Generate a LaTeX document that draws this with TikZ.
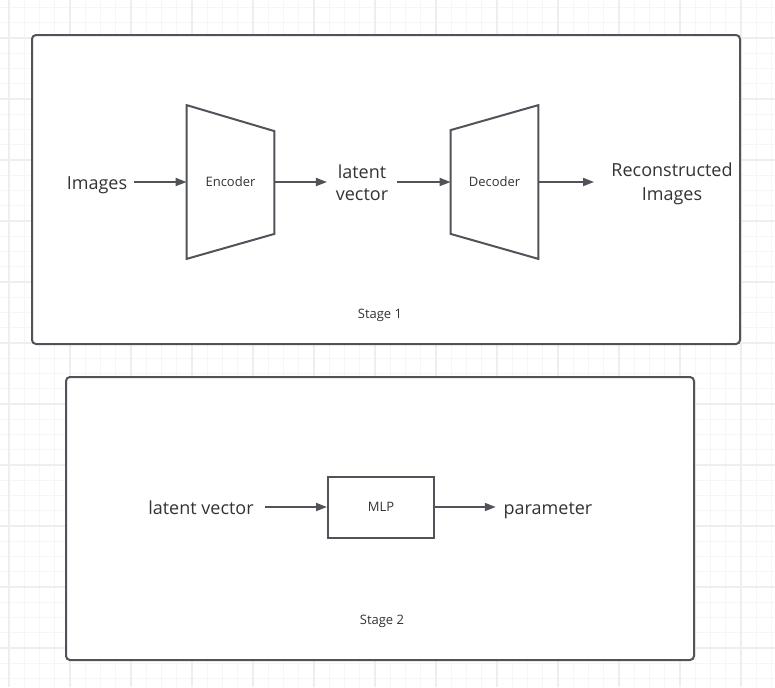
\documentclass[tikz,border=0pt]{standalone}
\usepackage{fontspec}
\setmainfont{Open Sans}
\usetikzlibrary{arrows.meta,calc}
\definecolor{linec}{RGB}{80,84,90}
\definecolor{textc}{RGB}{51,51,51}
\definecolor{gridminor}{RGB}{246,246,246}
\definecolor{gridmajor}{RGB}{238,238,238}

\begin{document}
\begin{tikzpicture}[x=0.5pt,y=-0.5pt]
	\tikzstyle{every node}+=[inner sep=0pt,text=textc]
	\tikzstyle{bigtext}=[font=\fontsize{9}{11}\selectfont,align=center]
	\tikzstyle{smalltext}=[font=\fontsize{6.5}{8}\selectfont]
	\tikzstyle{flow}=[draw=linec,line width=0.9pt,-{Triangle[length=5.5pt,width=4pt]}]
	\tikzstyle{stagebox}=[draw=linec,line width=1pt,rounded corners=2pt,fill=white]
	\tikzstyle{coder}=[smalltext,minimum width=43.5pt,minimum height=76.5pt]
	\tikzstyle{outline}=[draw=linec,line width=1pt]
	\useasboundingbox (0,0) rectangle (775,687);
	\fill[white] (0,0) rectangle (775,687);
	% background grid
	\foreach \i in {0,...,51}
		\draw[gridminor,line width=0.5pt] ({-6.25+15.25*\i},0) -- ++(0,687);
	\foreach \i in {0,...,45}
		\draw[gridminor,line width=0.5pt] (0,{7.5+15.25*\i}) -- ++(775,0);
	\foreach \i in {0,...,12}
		\draw[gridmajor,line width=0.7pt] ({9+61*\i},0) -- ++(0,687);
	\foreach \i in {0,...,10}
		\draw[gridmajor,line width=0.7pt] (0,{38+61*\i}) -- ++(775,0);
	% frames
	\draw[stagebox] (32,35) rectangle (740,344);
	\draw[stagebox] (66,377) rectangle (694,660);
	% stage 1
	\node[bigtext,inner xsep=3pt] (img) at (97,185) {Images};
	\node[coder] (enc) at (230.5,182) {Encoder};
	\draw[outline] (enc.north west) -- ($(enc.north east)+(0,26)$) -- ($(enc.south east)+(0,-25)$) -- (enc.south west) -- cycle;
	\node[bigtext,inner xsep=4.25pt] (lat) at (362,182.5) {latent\\vector};
	\node[coder] (dec) at (494.5,182) {Decoder};
	\draw[outline] ($(dec.north west)+(0,25)$) -- (dec.north east) -- (dec.south east) -- ($(dec.south west)+(0,-25)$) -- cycle;
	\node[bigtext,inner xsep=8.5pt,font=\fontsize{9}{12}\selectfont] (rec) at (672,184) {Reconstructed\\Images};
	\draw[flow] (enc.west -| img.east) -- (enc.west);
	\draw[flow] (enc.east) -- (enc.east -| lat.west);
	\draw[flow] (lat.east |- dec.west) -- (dec.west);
	\draw[flow] (dec.east) -- (dec.east -| rec.west);
	\node[smalltext] (stage1) at (380,315) {Stage 1};
	% stage 2
	\node[bigtext,inner xsep=5.5pt] (lv) at (201,508) {latent vector};
	\node[smalltext,outline,minimum width=53pt,minimum height=30.5pt] (mlp) at (381,507) {MLP};
	\node[bigtext,inner xsep=3.75pt] (par) at (548,511) {parameter};
	\draw[flow] (mlp.west -| lv.east) -- (mlp.west);
	\draw[flow] (mlp.east) -- (mlp.east -| par.west);
	\node[smalltext] (stage2) at (382,621) {Stage 2};
\end{tikzpicture}
\end{document}
